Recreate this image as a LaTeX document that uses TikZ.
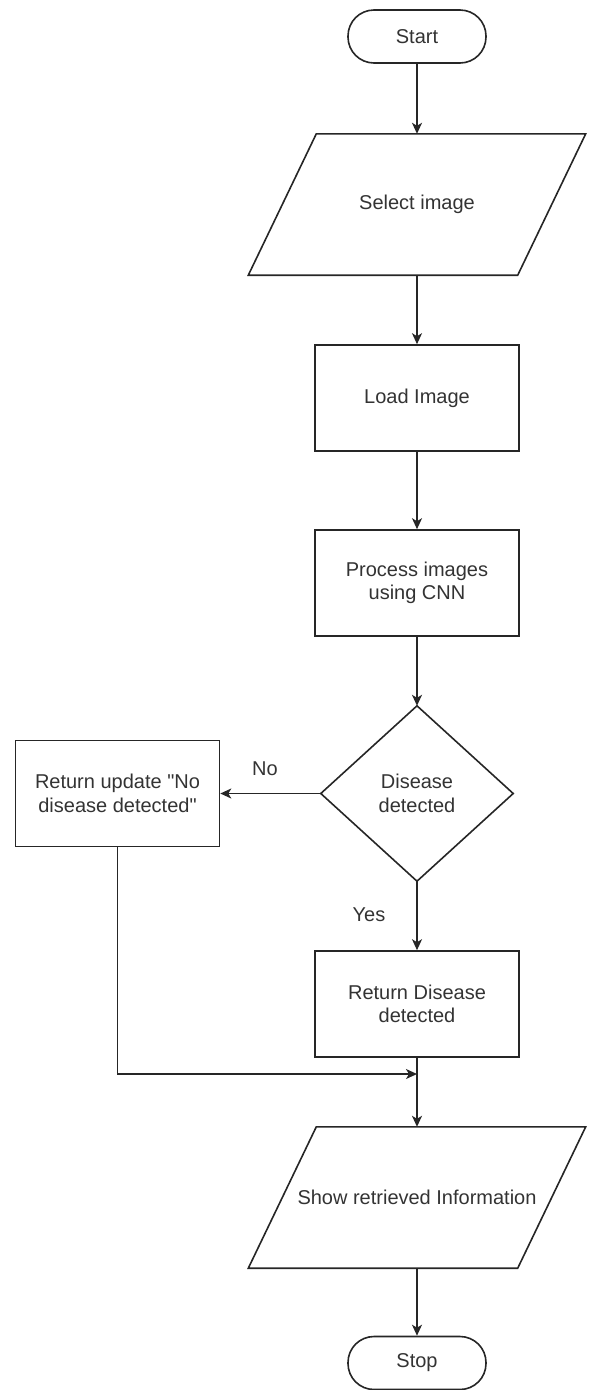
\documentclass[tikz,border=0pt]{standalone}
\usepackage{fontspec}
\setmainfont{Liberation Sans}[Ligatures=TeXOff]
\usetikzlibrary{arrows.meta,calc}
\begin{document}
\begin{tikzpicture}[x=1pt,y=-1pt,
  every node/.style={font=\fontsize{20}{23.5}\selectfont, text=black!80, align=center, inner sep=0pt},
  ln/.style={line width=1.6pt, draw=black!85},
  arr/.style={ln, -{Stealth[length=11pt,width=10pt,inset=3pt]}},
  term/.style={ln, rectangle, rounded corners=26pt, minimum width=138pt, minimum height=53pt},
  proc/.style={ln, rectangle, minimum width=204pt, minimum height=106pt},
  ioarea/.style={rectangle, minimum width=337pt, minimum height=141pt},
  decarea/.style={rectangle, minimum width=192pt, minimum height=175pt}]
\useasboundingbox (0,0) rectangle (592,1390);

\node[term] (start) at (417,36.5) {Start};

\node[ioarea] (sel) at (417,204.5) {Select image};
\draw[ln] ($(sel.north west)+(68,0)$) -- (sel.north east) -- ($(sel.south east)+(-68,0)$) -- (sel.south west) -- cycle;

\node[proc] (load) at (417,398) {Load Image};
\node[proc] (cnn) at (417,583) {Process images\\using CNN};

\node[decarea] (dec) at (417,793.5) {Disease\\detected};
\draw[ln] (dec.north) -- (dec.east) -- (dec.south) -- (dec.west) -- cycle;

\node[proc] (retno) at (117.5,793.5) {Return update "No\\disease detected"};
\node[proc] (retyes) at (417,1004) {Return Disease\\detected};

\node[ioarea] (show) at (417,1197.5) {Show retrieved Information};
\draw[ln] ($(show.north west)+(68,0)$) -- (show.north east) -- ($(show.south east)+(-68,0)$) -- (show.south west) -- cycle;

\node[term] (stop) at (417,1363) {Stop};

\node (no) at (265,769) {No};
\node (yes) at (369,915) {Yes};

\coordinate (m) at (417,1074);

\draw[arr] (start.south) -- (sel.north);
\draw[arr] (sel.south) -- (load.north);
\draw[arr] (load.south) -- (cnn.north);
\draw[arr] (cnn.south) -- (dec.north);
\draw[arr] (dec.west) -- (retno.east);
\draw[arr] (dec.south) -- (retyes.north);
\draw[arr] (retno.south) |- (m);
\draw[arr] (retyes.south) -- (show.north);
\draw[arr] (show.south) -- (stop.north);
\end{tikzpicture}
\end{document}
